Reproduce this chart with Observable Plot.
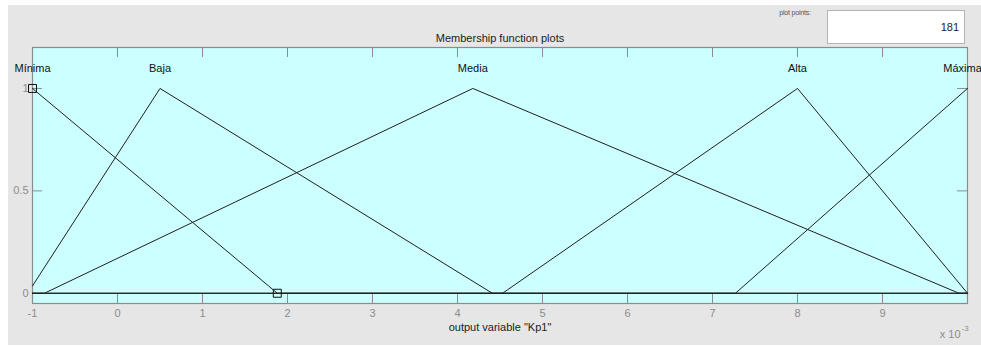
<!DOCTYPE html>
<html>
<head>
<meta charset="utf-8">
<script src="https://cdn.jsdelivr.net/npm/d3@7"></script>
<script src="https://cdn.jsdelivr.net/npm/@observablehq/plot@0.6"></script>
<style>
  html, body { margin: 0; padding: 0; background: #ffffff; }
  #fig { position: relative; width: 981px; height: 347px; font-family: "Liberation Sans", Arial, sans-serif; }
  #panel { position: absolute; left: 8px; top: 5px; width: 973px; height: 340px; background: #e6e6e6; }
  #chart { position: absolute; left: 0; top: 0; }
  #pp-label { position: absolute; left: 770px; top: 9px; width: 50px; text-align: center; font-size: 7px; color: #555; letter-spacing: -0.2px; }
  #pp-box { position: absolute; left: 827px; top: 10px; width: 136px; height: 32px; background: #ffffff; border: 1px solid #b4b4b4; box-sizing: content-box; }
  #pp-val { position: absolute; right: 5px; top: 10px; font-size: 11px; color: #222; }
</style>
</head>
<body>
<div id="fig">
  <div id="panel"></div>
  <div id="chart"></div>
  <div id="pp-label">plot points:</div>
  <div id="pp-box"><span id="pp-val"></span></div>
</div>
<script>
// Output variable "Kp1": x values are in units of 10^-3
const mfNames = ["Mínima", "Baja", "Media", "Alta", "Máxima"];
const minimaX = [-1, 1.88, 10];
const minimaY = [1, 0, 0];
const bajaX = [-1, 0.5, 4.41, 10];
const bajaY = [0.036, 1, 0, 0];
const mediaX = [-1, -0.86, 4.18, 9.9, 10];
const mediaY = [0, 0, 1, 0, 0];
const altaX = [-1, 4.53, 8.0, 10];
const altaY = [0, 0, 1, 0];
const maximaX = [-1, 7.27, 10];
const maximaY = [0, 0, 1];

const xTicks = [-1, 0, 1, 2, 3, 4, 5, 6, 7, 8, 9];
const yTicks = [0, 0.5, 1];
const yTickLabels = ["0", "0.5", "1"];
const plotPoints = 181;
const selectedMF = "Mínima";

const seriesX = [minimaX, bajaX, mediaX, altaX, maximaX];
const seriesY = [minimaY, bajaY, mediaY, altaY, maximaY];

// One row per vertex of each membership function
const rows = mfNames.flatMap((name, i) =>
  seriesX[i].map((x, j) => ({name, x, y: seriesY[i][j]}))
);

// Label each function at its peak
const xMax = 10;
const peaks = mfNames.map((name, i) => {
  const j = d3.maxIndex(seriesY[i]);
  return {name, x: seriesX[i][j]};
});

// Handles of the selected function (its corner points, not the padding tail)
const sel = mfNames.indexOf(selectedMF);
const handles = seriesX[sel].slice(0, 2).map((x, j) => ({x, y: seriesY[sel][j]}));

const W = 981, H = 347;
const mL = 32, mR = 14, mT = 47, mB = 44;
const plotW = W - mL - mR, plotH = H - mT - mB;
const tickLen = 10;
const axisGray = "#8c8c8c";
const font = "'Liberation Sans', Arial, sans-serif";

const chart = Plot.plot({
  width: W,
  height: H,
  marginLeft: mL,
  marginRight: mR,
  marginTop: mT,
  marginBottom: mB,
  style: {background: "transparent", fontFamily: font, fontSize: "11px"},
  x: {domain: [-1, xMax], label: null},
  y: {domain: [-0.05, 1.2], label: null},
  marks: [
    Plot.frame({fill: "#ccffff"}),
    // inward ticks on all four sides
    Plot.tickX(xTicks, {x: d => d, insetTop: plotH - tickLen, stroke: axisGray}),
    Plot.tickX(xTicks, {x: d => d, insetBottom: plotH - tickLen, stroke: axisGray}),
    Plot.tickY(yTicks, {y: d => d, insetRight: plotW - tickLen, stroke: axisGray}),
    Plot.tickY(yTicks, {y: d => d, insetLeft: plotW - tickLen, stroke: axisGray}),
    Plot.frame({stroke: "#8c8c8c", strokeWidth: 1.2}),
    Plot.axisX(xTicks, {tickSize: 0, tickPadding: 6, color: axisGray, label: null, tickFormat: d => String(d)}),
    Plot.axisY(yTicks, {tickSize: 0, tickPadding: 4, color: axisGray, label: null, tickFormat: (d, i) => yTickLabels[i]}),
    Plot.line(rows, {x: "x", y: "y", z: "name", stroke: "#1e1e1e", strokeWidth: 1}),
    Plot.dot(handles, {x: "x", y: "y", symbol: "square", r: 4.5, stroke: "#111", fill: "none", strokeWidth: 1}),
    // names above the peaks; the one at the right edge is nudged in to stay on the page
    Plot.text(peaks.filter(d => d.x < xMax), {x: "x", y: () => 1.1, text: "name", fill: "#111", fontSize: 11}),
    Plot.text(peaks.filter(d => d.x >= xMax), {x: "x", y: () => 1.1, text: "name", fill: "#111", fontSize: 11, dx: -5}),
    Plot.text(["Membership function plots"], {frameAnchor: "top", dy: -13, fill: "#222", fontSize: 11}),
    Plot.text(['output variable "Kp1"'], {frameAnchor: "bottom", dy: 27, fill: "#222", fontSize: 11}),
    Plot.text(["x 10"], {frameAnchor: "bottom-right", textAnchor: "end", dx: -7, dy: 34, fill: axisGray, fontSize: 11}),
    Plot.text(["-3"], {frameAnchor: "bottom-right", textAnchor: "start", dx: -6, dy: 27, fill: axisGray, fontSize: 8})
  ]
});

document.getElementById("chart").appendChild(chart);
document.getElementById("pp-val").textContent = String(plotPoints);
</script>
</body>
</html>
